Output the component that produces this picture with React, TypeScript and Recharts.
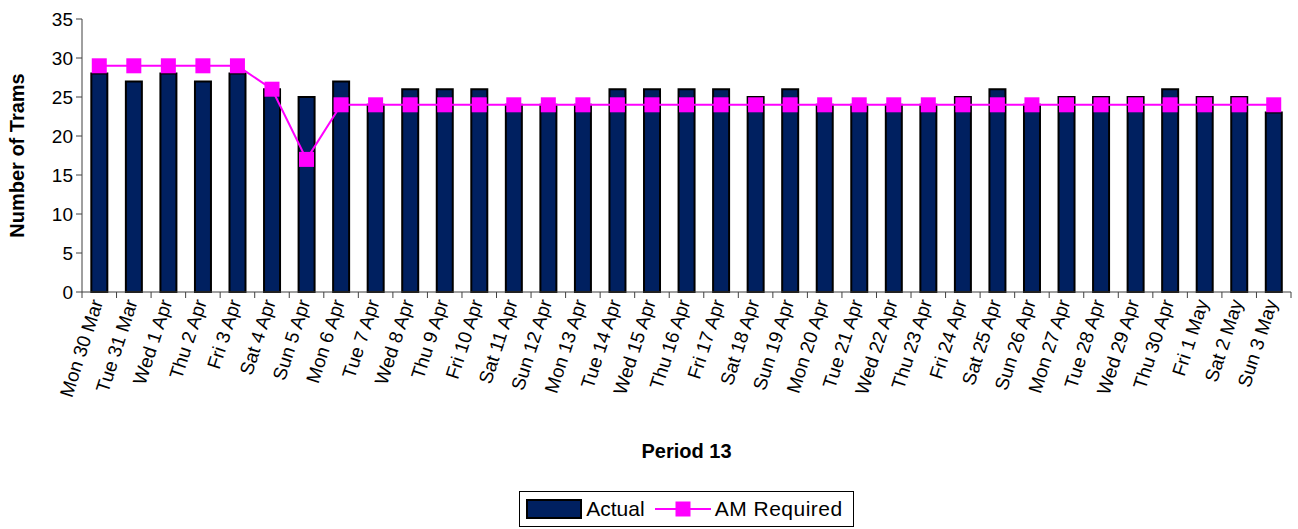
import { Bar, ComposedChart, Legend, Line, XAxis, YAxis } from "recharts"

const dates = [
  "Mon 30 Mar", "Tue 31 Mar", "Wed 1 Apr", "Thu 2 Apr", "Fri 3 Apr", "Sat 4 Apr", "Sun 5 Apr",
  "Mon 6 Apr", "Tue 7 Apr", "Wed 8 Apr", "Thu 9 Apr", "Fri 10 Apr", "Sat 11 Apr", "Sun 12 Apr",
  "Mon 13 Apr", "Tue 14 Apr", "Wed 15 Apr", "Thu 16 Apr", "Fri 17 Apr", "Sat 18 Apr", "Sun 19 Apr",
  "Mon 20 Apr", "Tue 21 Apr", "Wed 22 Apr", "Thu 23 Apr", "Fri 24 Apr", "Sat 25 Apr", "Sun 26 Apr",
  "Mon 27 Apr", "Tue 28 Apr", "Wed 29 Apr", "Thu 30 Apr", "Fri 1 May", "Sat 2 May", "Sun 3 May",
]

const actual = [
  28, 27, 28, 27, 28, 26, 25,
  27, 24, 26, 26, 26, 24, 24,
  24, 26, 26, 26, 26, 25, 26,
  24, 24, 24, 24, 25, 26, 24,
  25, 25, 25, 26, 25, 25, 23,
]

const amRequired = [
  29, 29, 29, 29, 29, 26, 17,
  24, 24, 24, 24, 24, 24, 24,
  24, 24, 24, 24, 24, 24, 24,
  24, 24, 24, 24, 24, 24, 24,
  24, 24, 24, 24, 24, 24, 24,
]

const yTicks = [0, 5, 10, 15, 20, 25, 30, 35]

const data = dates.map((d, i) => ({ date: d, actual: actual[i], required: amRequired[i] }))

const W = 1298
const H = 529
const Y_AXIS_W = 82
const RIGHT = 7
const BAND = (W - Y_AXIS_W - RIGHT) / dates.length

const NAVY = "#002060"
const MAGENTA = "#FF00FF"
const FONT = "'Liberation Sans', Arial, sans-serif"

// Excel-style ticks sit between categories, labels rotated steeply
const XTick = (props: any) => {
  const { x, y, payload, index } = props
  const half = BAND / 2
  const tx = x + 4
  const ty = y + 10
  return (
    <g>
      <line x1={x - half} x2={x - half} y1={y} y2={y + 6} stroke="#404040" />
      {index === dates.length - 1 && (
        <line x1={x + half} x2={x + half} y1={y} y2={y + 6} stroke="#404040" />
      )}
      <text
        x={tx}
        y={ty}
        transform={`rotate(-72, ${tx}, ${ty})`}
        textAnchor="end"
        fontSize={19}
        fontFamily={FONT}
        fill="#000"
      >
        {payload.value}
      </text>
    </g>
  )
}

const SquareDot = (props: any) => {
  const { cx, cy } = props
  if (cx == null || cy == null) return null
  return <rect x={cx - 7.5} y={cy - 7.5} width={15} height={15} fill={MAGENTA} />
}

const LegendBox = () => (
  <div style={{ display: "flex", justifyContent: "center", fontFamily: FONT, paddingLeft: Y_AXIS_W }}>
    <div
      style={{
        boxSizing: "border-box",
        height: 36,
        border: "1px solid #000",
        display: "flex",
        alignItems: "center",
        padding: "0 10px 0 6px",
        fontSize: 21,
        color: "#000",
        background: "#fff",
      }}
    >
      <svg width={56} height={20} style={{ marginRight: 4 }}>
        <rect x={1} y={1} width={54} height={18} fill={NAVY} stroke="#000" strokeWidth={2} />
      </svg>
      <span>Actual</span>
      <svg width={56} height={20} style={{ marginLeft: 10, marginRight: 4 }}>
        <line x1={0} x2={56} y1={10} y2={10} stroke={MAGENTA} strokeWidth={2} />
        <rect x={20.5} y={2.5} width={15} height={15} fill={MAGENTA} />
      </svg>
      <span style={{ letterSpacing: 0.5 }}>AM Required</span>
    </div>
  </div>
)

export default function App() {
  return (
    <div style={{ position: "absolute", left: 0, top: 0, background: "#fff" }}>
      <ComposedChart
        width={W}
        height={H}
        data={data}
        margin={{ top: 19, right: RIGHT, left: 0, bottom: 2 }}
        barCategoryGap="27%"
      >
        <XAxis
          dataKey="date"
          interval={0}
          height={199}
          tickSize={0}
          tickMargin={0}
          tickLine={false}
          axisLine={{ stroke: "#404040" }}
          tick={<XTick />}
          label={{
            content: (p: any) => {
              const vb = p.viewBox
              return (
                <text
                  x={vb.x + vb.width / 2}
                  y={vb.y + 159}
                  textAnchor="middle"
                  dominantBaseline="central"
                  fontSize={20}
                  fontWeight="bold"
                  fontFamily={FONT}
                  fill="#000"
                >
                  Period 13
                </text>
              )
            },
          }}
        />
        <YAxis
          width={Y_AXIS_W}
          domain={[0, 35]}
          ticks={yTicks}
          interval={0}
          tickSize={6}
          tickMargin={3}
          axisLine={{ stroke: "#404040" }}
          tickLine={{ stroke: "#404040" }}
          tick={{ fontSize: 19, fontFamily: FONT, fill: "#000" }}
          label={{
            content: (p: any) => {
              const vb = p.viewBox
              const cx = vb.x + 17
              const cy = vb.y + vb.height / 2
              return (
                <text
                  x={cx}
                  y={cy}
                  transform={`rotate(-90, ${cx}, ${cy})`}
                  textAnchor="middle"
                  dominantBaseline="central"
                  fontSize={20}
                  fontWeight="bold"
                  fontFamily={FONT}
                  fill="#000"
                >
                  Number of Trams
                </text>
              )
            },
          }}
        />
        <Legend verticalAlign="bottom" height={36} content={<LegendBox />} />
        <Bar
          dataKey="actual"
          name="Actual"
          fill={NAVY}
          stroke="#000"
          strokeWidth={2}
          isAnimationActive={false}
        />
        <Line
          dataKey="required"
          name="AM Required"
          stroke={MAGENTA}
          strokeWidth={2}
          dot={<SquareDot />}
          activeDot={false}
          isAnimationActive={false}
        />
      </ComposedChart>
    </div>
  )
}
